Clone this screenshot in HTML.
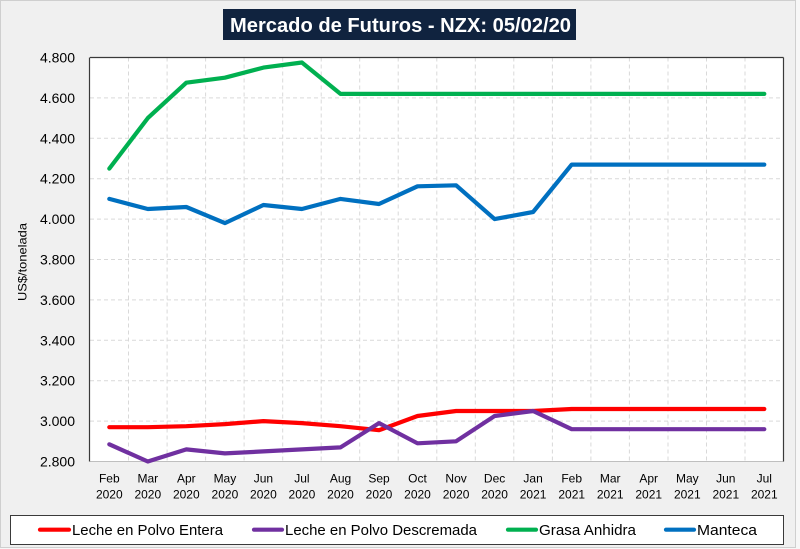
<!DOCTYPE html>
<html>
<head>
<meta charset="utf-8">
<style>
  html,body{margin:0;padding:0;background:#f0f0f0;}
  svg{display:block;}
  text{font-family:"Liberation Sans",Arial,sans-serif;}
</style>
</head>
<body>
<svg width="800" height="549" viewBox="0 0 800 549" xmlns="http://www.w3.org/2000/svg">
  <rect x="0" y="0" width="800" height="549" fill="#f7f7f7"/>
  <rect x="0.5" y="0.5" width="795" height="547" fill="#f0f0f0" stroke="#cfcfcf" stroke-width="1"/>

  <!-- Title -->
  <rect x="223" y="9" width="353" height="31" fill="#10233f"/>
  <text x="230" y="32" fill="#ffffff" font-size="20" font-weight="bold" textLength="341" lengthAdjust="spacingAndGlyphs">Mercado de Futuros - NZX: 05/02/20</text>

  <!-- Plot area -->
  <rect x="90" y="57.5" width="693.5" height="404" fill="#ffffff"/>

  <!-- horizontal gridlines -->
  <g stroke="#d9d9d9" stroke-width="1" stroke-dasharray="4 3">
    <line x1="90" y1="421.1" x2="783.5" y2="421.1"/>
    <line x1="90" y1="380.7" x2="783.5" y2="380.7"/>
    <line x1="90" y1="340.3" x2="783.5" y2="340.3"/>
    <line x1="90" y1="299.9" x2="783.5" y2="299.9"/>
    <line x1="90" y1="259.5" x2="783.5" y2="259.5"/>
    <line x1="90" y1="219.1" x2="783.5" y2="219.1"/>
    <line x1="90" y1="178.7" x2="783.5" y2="178.7"/>
    <line x1="90" y1="138.3" x2="783.5" y2="138.3"/>
    <line x1="90" y1="97.9" x2="783.5" y2="97.9"/>
  </g>
  <!-- vertical gridlines -->
  <g stroke="#d9d9d9" stroke-width="1" stroke-dasharray="4 3">
    <line x1="128.5" y1="57.5" x2="128.5" y2="461.5"/>
    <line x1="167.1" y1="57.5" x2="167.1" y2="461.5"/>
    <line x1="205.6" y1="57.5" x2="205.6" y2="461.5"/>
    <line x1="244.1" y1="57.5" x2="244.1" y2="461.5"/>
    <line x1="282.7" y1="57.5" x2="282.7" y2="461.5"/>
    <line x1="321.2" y1="57.5" x2="321.2" y2="461.5"/>
    <line x1="359.7" y1="57.5" x2="359.7" y2="461.5"/>
    <line x1="398.2" y1="57.5" x2="398.2" y2="461.5"/>
    <line x1="436.8" y1="57.5" x2="436.8" y2="461.5"/>
    <line x1="475.3" y1="57.5" x2="475.3" y2="461.5"/>
    <line x1="513.8" y1="57.5" x2="513.8" y2="461.5"/>
    <line x1="552.4" y1="57.5" x2="552.4" y2="461.5"/>
    <line x1="590.9" y1="57.5" x2="590.9" y2="461.5"/>
    <line x1="629.4" y1="57.5" x2="629.4" y2="461.5"/>
    <line x1="668.0" y1="57.5" x2="668.0" y2="461.5"/>
    <line x1="706.5" y1="57.5" x2="706.5" y2="461.5"/>
    <line x1="745.0" y1="57.5" x2="745.0" y2="461.5"/>
  </g>

  <!-- borders -->
  <line x1="90" y1="461.5" x2="783.5" y2="461.5" stroke="#bfbfbf" stroke-width="1"/>
  <line x1="90" y1="57.5" x2="783.5" y2="57.5" stroke="#3a3a3a" stroke-width="1.2"/>
  <line x1="783.5" y1="57.5" x2="783.5" y2="461.5" stroke="#3a3a3a" stroke-width="1.2"/>
  <line x1="89.5" y1="57.5" x2="89.5" y2="461.5" stroke="#3a3a3a" stroke-width="1.2"/>

  <!-- Series -->
  <g fill="none" stroke-width="4.2" stroke-linejoin="round" stroke-linecap="round">
    <polyline stroke="#ff0000" points="109.3,427.2 147.8,427.2 186.3,426.2 224.9,424.1 263.4,421.1 301.9,423.1 340.5,426.2 379.0,430.2 417.5,416.0 456.1,411.0 494.6,411.0 533.1,411.0 571.7,409.0 610.2,409.0 648.7,409.0 687.3,409.0 725.8,409.0 764.3,409.0"/>
    <polyline stroke="#7030a0" points="109.3,444.3 147.8,461.5 186.3,449.4 224.9,453.4 263.4,451.4 301.9,449.4 340.5,447.4 379.0,423.1 417.5,443.3 456.1,441.3 494.6,416.0 533.1,411.0 571.7,429.2 610.2,429.2 648.7,429.2 687.3,429.2 725.8,429.2 764.3,429.2"/>
    <polyline stroke="#00b050" points="109.3,168.6 147.8,118.1 186.3,82.7 224.9,77.7 263.4,67.6 301.9,62.5 340.5,93.9 379.0,93.9 417.5,93.9 456.1,93.9 494.6,93.9 533.1,93.9 571.7,93.9 610.2,93.9 648.7,93.9 687.3,93.9 725.8,93.9 764.3,93.9"/>
    <polyline stroke="#0070c0" points="109.3,198.9 147.8,209.0 186.3,207.0 224.9,223.1 263.4,205.0 301.9,209.0 340.5,198.9 379.0,204.0 417.5,186.3 456.1,185.3 494.6,219.1 533.1,212.0 571.7,164.6 610.2,164.6 648.7,164.6 687.3,164.6 725.8,164.6 764.3,164.6"/>
  </g>

  <!-- Y tick labels -->
  <g font-size="14" fill="#000000" text-anchor="end">
    <text x="75" y="62.5">4.800</text>
    <text x="75" y="102.9">4.600</text>
    <text x="75" y="143.3">4.400</text>
    <text x="75" y="183.7">4.200</text>
    <text x="75" y="224.1">4.000</text>
    <text x="75" y="264.5">3.800</text>
    <text x="75" y="304.9">3.600</text>
    <text x="75" y="345.3">3.400</text>
    <text x="75" y="385.7">3.200</text>
    <text x="75" y="426.1">3.000</text>
    <text x="75" y="466.5">2.800</text>
  </g>

  <!-- Y axis title -->
  <text x="-39" y="0" font-size="12" fill="#000000" textLength="78" lengthAdjust="spacingAndGlyphs" transform="translate(26.5,262) rotate(-90)">US$/tonelada</text>

  <!-- X tick labels -->
  <g font-size="12" fill="#000000" text-anchor="middle">
    <text x="109.3" y="482.5">Feb</text><text x="109.3" y="498.5">2020</text>
    <text x="147.8" y="482.5">Mar</text><text x="147.8" y="498.5">2020</text>
    <text x="186.3" y="482.5">Apr</text><text x="186.3" y="498.5">2020</text>
    <text x="224.9" y="482.5">May</text><text x="224.9" y="498.5">2020</text>
    <text x="263.4" y="482.5">Jun</text><text x="263.4" y="498.5">2020</text>
    <text x="301.9" y="482.5">Jul</text><text x="301.9" y="498.5">2020</text>
    <text x="340.5" y="482.5">Aug</text><text x="340.5" y="498.5">2020</text>
    <text x="379.0" y="482.5">Sep</text><text x="379.0" y="498.5">2020</text>
    <text x="417.5" y="482.5">Oct</text><text x="417.5" y="498.5">2020</text>
    <text x="456.1" y="482.5">Nov</text><text x="456.1" y="498.5">2020</text>
    <text x="494.6" y="482.5">Dec</text><text x="494.6" y="498.5">2020</text>
    <text x="533.1" y="482.5">Jan</text><text x="533.1" y="498.5">2021</text>
    <text x="571.7" y="482.5">Feb</text><text x="571.7" y="498.5">2021</text>
    <text x="610.2" y="482.5">Mar</text><text x="610.2" y="498.5">2021</text>
    <text x="648.7" y="482.5">Apr</text><text x="648.7" y="498.5">2021</text>
    <text x="687.3" y="482.5">May</text><text x="687.3" y="498.5">2021</text>
    <text x="725.8" y="482.5">Jun</text><text x="725.8" y="498.5">2021</text>
    <text x="764.3" y="482.5">Jul</text><text x="764.3" y="498.5">2021</text>
  </g>

  <!-- Legend -->
  <rect x="10.5" y="515.5" width="773" height="29" fill="#ffffff" stroke="#3a3a3a" stroke-width="1"/>
  <g stroke-width="4.2" stroke-linecap="round">
    <line x1="40" y1="529.7" x2="69" y2="529.7" stroke="#ff0000"/>
    <line x1="254" y1="529.7" x2="282" y2="529.7" stroke="#7030a0"/>
    <line x1="508" y1="529.7" x2="536" y2="529.7" stroke="#00b050"/>
    <line x1="666" y1="529.7" x2="694" y2="529.7" stroke="#0070c0"/>
  </g>
  <g font-size="15" fill="#000000">
    <text x="72" y="535" textLength="151" lengthAdjust="spacingAndGlyphs">Leche en Polvo Entera</text>
    <text x="285" y="535" textLength="192" lengthAdjust="spacingAndGlyphs">Leche en Polvo Descremada</text>
    <text x="539" y="535" textLength="97" lengthAdjust="spacingAndGlyphs">Grasa Anhidra</text>
    <text x="697" y="535" textLength="60" lengthAdjust="spacingAndGlyphs">Manteca</text>
  </g>
</svg>
</body>
</html>
